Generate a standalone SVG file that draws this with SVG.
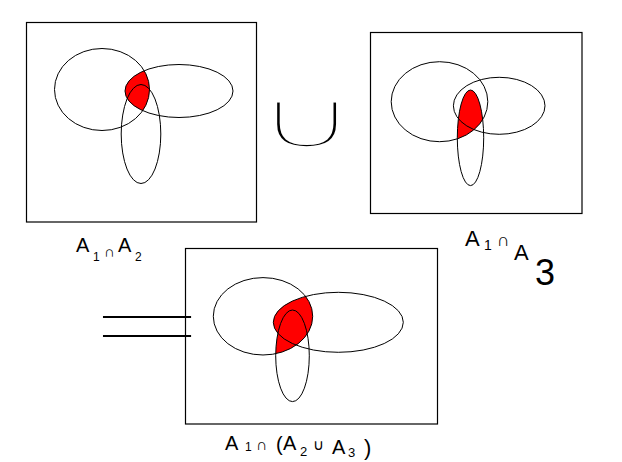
<svg xmlns="http://www.w3.org/2000/svg" width="622" height="462" viewBox="0 0 622 462">
<style>
.frame{fill:none;stroke:#000;stroke-width:1.2}
.set{fill:none;stroke:#000;stroke-width:1}
.shade{fill:#ff0000}
.lbl{font-family:"Liberation Sans","DejaVu Sans",sans-serif;font-size:20px;fill:#000}
.op{font-family:"DejaVu Sans",sans-serif;fill:#000;stroke:#fff;paint-order:normal;text-anchor:middle}
</style>
<defs>
<clipPath id="c1A1"><ellipse cx="102" cy="89.5" rx="47.5" ry="41"/></clipPath>
<clipPath id="c2A1"><ellipse cx="439.5" cy="101.7" rx="48.3" ry="40"/></clipPath>
<clipPath id="c3A1"><ellipse cx="263" cy="316.3" rx="49.7" ry="38.7"/></clipPath>
</defs>
<rect width="622" height="462" fill="#fff"/>

<g id="union-op">
<text class="op" transform="translate(306.5,149) scale(1.7,1)" style="font-size:85px;stroke-width:5.6px">∪</text>
</g>
<g id="equals-op">
<text class="op" transform="translate(147,356.5) scale(1.63,1)" style="font-size:96px;stroke-width:6px">=</text>
</g>

<g id="panel1">
<rect class="frame" x="26.5" y="22.5" width="230" height="199.5"/>
<ellipse class="shade" clip-path="url(#c1A1)" cx="179" cy="91" rx="54" ry="26.5"/>
<ellipse class="set" cx="102" cy="89.5" rx="47.5" ry="41"/>
<ellipse class="set" cx="179" cy="91" rx="54" ry="26.5"/>
<ellipse class="set" cx="141" cy="134" rx="19.8" ry="49.5"/>
</g>

<g id="panel2">
<rect class="frame" x="370.5" y="32.5" width="211.5" height="181"/>
<ellipse class="shade" clip-path="url(#c2A1)" cx="470.5" cy="137.8" rx="13.2" ry="47.8"/>
<ellipse class="set" cx="439.5" cy="101.7" rx="48.3" ry="40"/>
<ellipse class="set" cx="499.2" cy="105.8" rx="45.8" ry="28.5"/>
<ellipse class="set" cx="470.5" cy="137.8" rx="13.2" ry="47.8"/>
</g>

<g id="panel3">
<rect class="frame" x="185.5" y="248.5" width="252" height="175.5"/>
<g clip-path="url(#c3A1)">
<ellipse class="shade" cx="338.3" cy="322.3" rx="65" ry="30"/>
<ellipse class="shade" cx="292.5" cy="355.8" rx="16.8" ry="45.8"/>
</g>
<ellipse class="set" cx="263" cy="316.3" rx="49.7" ry="38.7"/>
<ellipse class="set" cx="338.3" cy="322.3" rx="65" ry="30"/>
<ellipse class="set" cx="292.5" cy="355.8" rx="16.8" ry="45.8"/>
</g>

<g id="label1">
<text class="lbl"><tspan x="76" y="252">A</tspan><tspan x="93" y="261" style="font-size:12px">1</tspan><tspan x="104" y="257" style="font-size:15px">∩</tspan><tspan x="118" y="252">A</tspan><tspan x="135" y="261" style="font-size:12px">2</tspan></text>
</g>
<g id="label2">
<text class="lbl"><tspan x="465" y="246" style="font-size:22px">A</tspan><tspan x="484" y="250" style="font-size:14px">1</tspan><tspan x="497" y="246" style="font-size:18px">∩</tspan><tspan x="514" y="260" style="font-size:22px">A</tspan><tspan x="535" y="285" style="font-size:36px">3</tspan></text>
</g>
<g id="label3">
<text class="lbl"><tspan x="225" y="450">A</tspan><tspan x="245" y="451" style="font-size:12px">1</tspan><tspan x="256" y="450" style="font-size:16px">∩</tspan><tspan x="276" y="451">(</tspan><tspan x="283" y="450">A</tspan><tspan x="300" y="456" style="font-size:13px">2</tspan><tspan x="313" y="450" style="font-size:15px">∪</tspan><tspan x="332" y="454">A</tspan><tspan x="348" y="457" style="font-size:13px">3</tspan><tspan x="364" y="455" style="font-size:22px">)</tspan></text>
</g>
</svg>
